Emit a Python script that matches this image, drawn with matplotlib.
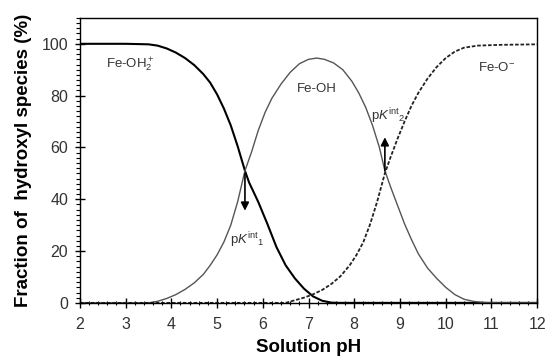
import matplotlib
matplotlib.use("Agg")
from matplotlib import pyplot as plt
from matplotlib.ticker import MultipleLocator

plt.rcParams['font.family'] = ['Liberation Sans', 'DejaVu Sans']
plt.rcParams['mathtext.fontset'] = 'custom'
plt.rcParams['mathtext.rm'] = 'Liberation Sans'
plt.rcParams['mathtext.it'] = 'Liberation Sans:italic'

# values
ph_oh2 = [2.0, 3.0, 3.5, 3.7, 3.9, 4.1, 4.3, 4.5, 4.7, 4.85, 5.0, 5.15, 5.3, 5.45, 5.61,
          5.7, 5.9, 6.1, 6.3, 6.5, 6.7, 6.9, 7.1, 7.3, 7.5, 7.7, 12.0]
fe_oh2 = [100, 100, 99.8, 99.3, 98.2, 96.6, 94.5, 91.8, 88.3, 85, 80.5, 75, 68.5, 60.5, 51,
          46.5, 39, 30.5, 21.5, 14.5, 9.5, 5.5, 2.5, 0.8, 0.1, 0, 0]

ph_oh = [2.0, 3.5, 3.7, 3.9, 4.1, 4.3, 4.5, 4.7, 4.85, 5.0, 5.15, 5.3, 5.45, 5.61,
         5.75, 5.9, 6.05, 6.2, 6.4, 6.6, 6.8, 7.0, 7.18, 7.35, 7.55, 7.75, 7.95, 8.1,
         8.25, 8.4, 8.55, 8.67, 8.8, 8.95, 9.1, 9.25, 9.4, 9.6, 9.8, 10.0, 10.2, 10.4,
         10.6, 10.8, 11.0, 12.0]
fe_oh = [0, 0, 0.6, 1.7, 3.2, 5.2, 7.7, 11, 14.5, 18.5, 23.5, 30, 39, 51,
         58, 66.5, 73.5, 79, 84.5, 89, 92.3, 94, 94.5, 94, 92.6, 90, 85.5, 81,
         75.5, 68.5, 60, 51, 44.5, 37.5, 30.5, 24.5, 19, 13.5, 9.5, 6, 3.2, 1.4,
         0.6, 0.2, 0, 0]

ph_o = [2.0, 6.5, 6.7, 6.9, 7.1, 7.3, 7.5, 7.7, 7.9, 8.05, 8.2, 8.35, 8.5, 8.6, 8.67,
        8.8, 8.95, 9.1, 9.25, 9.4, 9.6, 9.8, 10.0, 10.2, 10.4, 10.7, 11.2, 12.0]
fe_o = [0, 0, 1.0, 2.0, 3.3, 5.0, 7.3, 10.3, 14.5, 18.5, 23.5, 30.5, 39, 45.5, 50,
        56.5, 63.5, 70, 76, 81, 86.5, 91, 94.5, 97, 98.5, 99.3, 99.6, 99.8]

fig = plt.figure(figsize=(5.47, 3.58), dpi=100)
ax = fig.add_subplot(111)
fig.subplots_adjust(left=0.146, right=0.982, bottom=0.154, top=0.95)

ax.plot(ph_oh2, fe_oh2, color='black', lw=1.5)
ax.plot(ph_oh, fe_oh, color='#555555', lw=1.0)
ax.plot(ph_o, fe_o, color='#222222', lw=1.3, dashes=(2, 1))

ax.set_xlim(2, 12)
ax.set_ylim(0, 110)
ax.xaxis.set_major_locator(MultipleLocator(1))
ax.xaxis.set_minor_locator(MultipleLocator(0.2))
ax.yaxis.set_minor_locator(MultipleLocator(2))
ax.set_yticks([0, 20, 40, 60, 80, 100])

ax.tick_params(axis='x', which='major', direction='inout', length=7, width=1, pad=7,
               labelsize=11.5, labelcolor='#333333', top=False)
ax.tick_params(axis='x', which='minor', direction='inout', length=3.5, width=0.8, top=False)
ax.tick_params(axis='y', which='major', direction='inout', length=7, width=1, pad=5,
               labelsize=11.5, labelcolor='#333333', right=False)
ax.tick_params(axis='y', which='minor', direction='out', length=3, width=0.8, right=False)

for s in ax.spines.values():
    s.set_linewidth(1.0)

ax.set_xlabel('Solution pH', fontsize=13.5, fontweight='bold', labelpad=5)
ax.set_ylabel('Fraction of  hydroxyl species (%)', fontsize=13.5, fontweight='bold', labelpad=7)

tc = '#333333'
ax.text(2.57, 92, r'Fe-OH$_2^+$', fontsize=9.5, color=tc, va='center', ha='left')
ax.text(7.18, 82.7, 'Fe-OH', fontsize=9.5, color=tc, va='center', ha='center')
ax.text(10.71, 91, r'Fe-O$^{-}$', fontsize=9.5, color=tc, va='center', ha='left')
ax.text(8.37, 72, r'p$K^{\rm int}{}_{2}$', fontsize=9.5, color=tc, va='center', ha='left')
ax.text(5.28, 24, r'p$K^{\rm int}{}_{1}$', fontsize=9.5, color=tc, va='center', ha='left')

ax.annotate('', xy=(5.61, 34.5), xytext=(5.61, 51),
            arrowprops=dict(arrowstyle='-|>', color='black', lw=1.2, mutation_scale=12))
ax.annotate('', xy=(8.67, 65), xytext=(8.67, 50),
            arrowprops=dict(arrowstyle='-|>', color='black', lw=1.2, mutation_scale=12))

fig.savefig('out.png', dpi=100)
